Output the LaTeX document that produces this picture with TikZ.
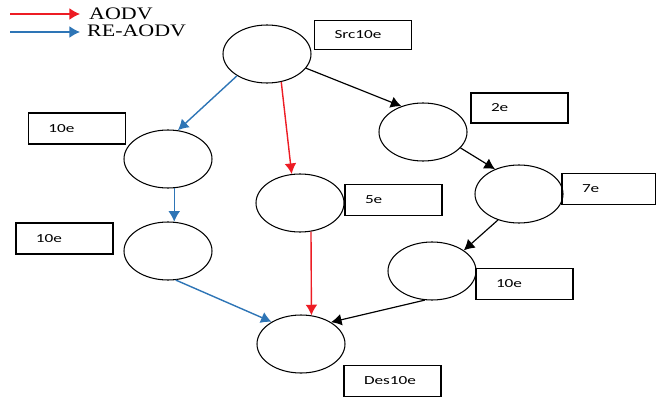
\documentclass[tikz,border=0pt]{standalone}
\usepackage{fontspec}
\usepackage{tikz}
\usepackage{xcolor}
\newfontfamily\boxfont[FakeStretch=1.4]{Carlito}
\newfontfamily\legendfont[FakeStretch=1.25]{Liberation Serif}
\usetikzlibrary{shapes}
\usetikzlibrary{arrows.meta}
\usetikzlibrary{positioning}

\definecolor{aodvred}{RGB}{237,28,36}
\definecolor{reblue}{RGB}{46,117,182}

\tikzset{
  hop/.style={draw, ellipse, line width=0.9pt, inner sep=0pt,
    minimum width=2.64cm, minimum height=1.74cm},
  cost/.style={draw, rectangle, line width=0.9pt, inner ysep=0pt, inner xsep=0.6cm,
    minimum height=0.93cm, text width=1.71cm, align=left, font=\boxfont\fontsize{10.5}{12}\selectfont},
  tip/.style={-{Latex[length=9pt,width=10pt]}},
  aodv/.style={tip, draw=aodvred, line width=1.2pt},
  reaodv/.style={tip, draw=reblue, line width=1.2pt},
  plain/.style={tip, draw=black, line width=1pt},
  legend/.style={anchor=west, inner sep=0pt, font=\legendfont\fontsize{15}{17}\selectfont}
}

\begin{document}
\begin{tikzpicture}[x=0.03cm, y=-0.03cm]
\useasboundingbox (0,0) rectangle (656,398);

%Legend
\coordinate (la) at (10,14);
\coordinate (lb) at (10,32);
\coordinate (ea) at (80,14);
\coordinate (eb) at (80,32);
\node[legend] (ta) at (89,14) {AODV};
\node[legend] (tb) at (87,31) {RE-AODV};
\draw[aodv, line width=1pt] (la) -- (ea);
\draw[reaodv, line width=1pt] (lb) -- (eb);

%Nodes
\node[hop] (src) at (267,54) {};
\node[hop] (left1) at (168,159) {};
\node[hop] (left2) at (168,251) {};
\node[hop] (mid) at (300,203) {};
\node[hop] (des) at (301,344) {};
\node[hop] (n2) at (423,132) {};
\node[hop] (n7) at (519,194) {};
\node[hop] (n10) at (432,271) {};

%Costs
\node[cost, minimum height=0.87cm] (csrc) at (363,35) {Src10e};
\node[cost] (cleft1) at (77,128.5) {10e};
\node[cost] (cleft2) at (64.5,238.5) {10e};
\node[cost] (cmid) at (393.5,200) {5e};
\node[cost] (cdes) at (392.5,381) {Des10e};
\node[cost, minimum height=0.9cm] (cn2) at (519.5,108) {2e};
\node[cost, text width=1.62cm] (cn7) at (609,189) {7e};
\node[cost] (cn10) at (524.5,284) {10e};

%Routes
\draw[reaodv] (src.216) -- (left1.71);
\draw[reaodv] (left1.-78) -- (left2.78);
\draw[reaodv] (left2.-75) -- (des.143);
\draw[aodv] (src.-63) -- (mid.106);
\draw[aodv] (mid.-69) -- (des.70);
\draw[plain] (src.-20) -- (n2.130);
\draw[plain] (n2.-23) -- (n7.134);
\draw[plain] (n7.231) -- (n10.33);
\draw[plain] (n10.256) -- (des.36);
\end{tikzpicture}
\end{document}
